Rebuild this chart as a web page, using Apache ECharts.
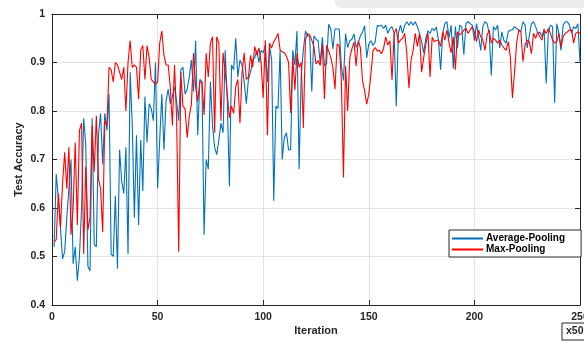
<!DOCTYPE html>
<html>
<head>
<meta charset="utf-8">
<script src="https://cdn.jsdelivr.net/npm/echarts@6/dist/echarts.min.js"></script>
<style>
  html, body { margin: 0; padding: 0; background: #fff; }
  #chart { width: 584px; height: 343px; }
</style>
</head>
<body>
<div id="chart"></div>
<script>
// test accuracy per iteration (x50)
var avgPooling = [
    0.52, 0.67, 0.62, 0.56, 0.495, 0.51, 0.58, 0.64, 0.70, 0.485,
    0.52, 0.45, 0.50, 0.60, 0.785, 0.73, 0.48, 0.47, 0.785, 0.525,
    0.52, 0.75, 0.795, 0.69, 0.795, 0.76, 0.835, 0.505, 0.50, 0.625,
    0.475, 0.72, 0.655, 0.63, 0.725, 0.505, 0.88, 0.77, 0.58, 0.75,
    0.565, 0.74, 0.635, 0.83, 0.735, 0.815, 0.805, 0.78, 0.90, 0.64,
    0.74, 0.835, 0.72, 0.82, 0.845, 0.815, 0.83, 0.85, 0.82, 0.78,
    0.885, 0.89, 0.835, 0.845, 0.87, 0.905, 0.84, 0.945, 0.75, 0.865,
    0.86, 0.545, 0.70, 0.68, 0.86, 0.77, 0.725, 0.71, 0.74, 0.775,
    0.755, 0.925, 0.82, 0.645, 0.895, 0.885, 0.95, 0.87, 0.905, 0.895,
    0.86, 0.815, 0.865, 0.88, 0.905, 0.91, 0.925, 0.90, 0.925, 0.92,
    0.935, 0.86, 0.935, 0.905, 0.615, 0.81, 0.805, 0.925, 0.70, 0.745,
    0.755, 0.72, 0.72, 0.925, 0.895, 0.965, 0.68, 0.875, 0.925, 0.965,
    0.955, 0.955, 0.84, 0.955, 0.948, 0.945, 0.897, 0.952, 0.893, 0.897,
    0.979, 0.969, 0.928, 0.969, 0.969, 0.969, 0.893, 0.863, 0.959, 0.931,
    0.945, 0.948, 0.959, 0.931, 0.94, 0.955, 0.962, 0.976, 0.91, 0.938,
    0.945, 0.935, 0.942, 0.976, 0.975, 0.977, 0.97, 0.977, 0.96, 0.97,
    0.974, 0.96, 0.81, 0.96, 0.977, 0.96, 0.977, 0.984, 0.977, 0.984,
    0.977, 0.984, 0.974, 0.96, 0.944, 0.92, 0.95, 0.965, 0.96, 0.97,
    0.966, 0.973, 0.945, 0.885, 0.96, 0.98, 0.984, 0.95, 0.977, 0.887,
    0.974, 0.93, 0.977, 0.974, 0.916, 0.98, 0.984, 0.98, 0.977, 0.945,
    0.98, 0.953, 0.925, 0.974, 0.984, 0.98, 0.96, 0.873, 0.974, 0.967,
    0.977, 0.93, 0.963, 0.945, 0.94, 0.963, 0.967, 0.967, 0.974, 0.97,
    0.967, 0.963, 0.984, 0.977, 0.93, 0.955, 0.98, 0.984, 0.974, 0.96,
    0.963, 0.953, 0.97, 0.857, 0.963, 0.977, 0.974, 0.817, 0.98, 0.96,
    0.925, 0.977, 0.984, 0.984, 0.977, 0.96, 0.974, 0.97, 0.98, 0.90
];
var maxPooling = [
    0.53, 0.535, 0.63, 0.56, 0.65, 0.715, 0.64, 0.725, 0.545, 0.60,
    0.735, 0.565, 0.76, 0.775, 0.505, 0.685, 0.555, 0.58, 0.77, 0.675,
    0.79, 0.66, 0.64, 0.55, 0.78, 0.77, 0.89, 0.885, 0.86, 0.90,
    0.895, 0.88, 0.865, 0.89, 0.80, 0.90, 0.945, 0.89, 0.895, 0.89,
    0.825, 0.925, 0.935, 0.865, 0.935, 0.91, 0.865, 0.86, 0.855, 0.86,
    0.94, 0.965, 0.915, 0.895, 0.895, 0.85, 0.77, 0.895, 0.785, 0.51,
    0.88, 0.81, 0.805, 0.745, 0.79, 0.813, 0.919, 0.85, 0.82, 0.86,
    0.86, 0.792, 0.919, 0.87, 0.94, 0.953, 0.755, 0.953, 0.94, 0.78,
    0.92, 0.88, 0.835, 0.786, 0.81, 0.795, 0.85, 0.865, 0.775, 0.88,
    0.92, 0.865, 0.87, 0.915, 0.89, 0.933, 0.915, 0.93, 0.90, 0.827,
    0.946, 0.75, 0.94, 0.93, 0.943, 0.95, 0.96, 0.926, 0.922, 0.92,
    0.913, 0.90, 0.796, 0.91, 0.843, 0.919, 0.89, 0.90, 0.765, 0.946,
    0.96, 0.957, 0.946, 0.933, 0.897, 0.904, 0.894, 0.938, 0.825, 0.935,
    0.924, 0.91, 0.89, 0.845, 0.938, 0.935, 0.863, 0.663, 0.893, 0.80,
    0.91, 0.928, 0.942, 0.893, 0.945, 0.931, 0.863, 0.842, 0.814, 0.835,
    0.876, 0.924, 0.931, 0.924, 0.925, 0.918, 0.929, 0.953, 0.936, 0.945,
    0.864, 0.96, 0.97, 0.94, 0.946, 0.95, 0.96, 0.919, 0.847, 0.905,
    0.925, 0.96, 0.933, 0.96, 0.88, 0.91, 0.938, 0.96, 0.87, 0.952,
    0.943, 0.946, 0.946, 0.933, 0.963, 0.946, 0.967, 0.94, 0.92, 0.953,
    0.885, 0.963, 0.957, 0.96, 0.967, 0.97, 0.96, 0.967, 0.974, 0.963,
    0.943, 0.967, 0.953, 0.946, 0.925, 0.956, 0.967, 0.94, 0.95, 0.946,
    0.94, 0.946, 0.936, 0.93, 0.925, 0.943, 0.912, 0.827, 0.88, 0.94,
    0.967, 0.963, 0.902, 0.936, 0.946, 0.943, 0.918, 0.96, 0.95, 0.963,
    0.953, 0.946, 0.967, 0.96, 0.97, 0.96, 0.946, 0.94, 0.943, 0.96,
    0.932, 0.953, 0.96, 0.963, 0.967, 0.967, 0.94, 0.96, 0.963, 0.96
];
var seriesNames = ['Average-Pooling', 'Max-Pooling'];

var axisColor = '#262626';
var gridColor = '#e3e3e3';
var fontFam = '"Liberation Sans", Arial, sans-serif';

function toPairs(arr) {
    return arr.map(function (v, i) { return [i + 1, v]; });
}

var myChart = echarts.init(document.getElementById('chart'));

var labelStyle = {
    color: axisColor,
    fontFamily: fontFam,
    fontWeight: 'bold',
    fontSize: 10.5
};

var option = {
    backgroundColor: '#ffffff',
    animation: false,
    grid: {
        left: 52,
        right: 4,
        top: 14,
        bottom: 38,
        outerBoundsMode: 'none'
    },
    graphic: [
        // faint grey band at the very top of the source picture
        {
            type: 'rect',
            shape: { x: 335, y: -6, width: 260, height: 14, r: 7 },
            style: { fill: '#ededed' },
            z: -10
        },
        // the "x50" scale box
        {
            type: 'rect',
            shape: { x: 562, y: 323, width: 30, height: 17 },
            style: { fill: '#fff', stroke: axisColor, lineWidth: 1 }
        },
        {
            type: 'text',
            left: 566,
            top: 326,
            style: {
                text: 'x50',
                fill: axisColor,
                font: 'bold 10.5px ' + fontFam
            }
        }
    ],
    legend: {
        data: seriesNames,
        orient: 'vertical',
        left: 449,
        top: 230,
        itemWidth: 31,
        itemHeight: 2,
        itemGap: 0,
        icon: 'rect',
        padding: [3, 16, 2, 3],
        backgroundColor: '#fff',
        borderColor: axisColor,
        borderWidth: 1,
        borderRadius: 0,
        textStyle: {
            color: '#000',
            fontFamily: fontFam,
            fontWeight: 'bold',
            fontSize: 10,
            lineHeight: 11,
            padding: [0, 0, 0, -2]
        }
    },
    xAxis: [{
        type: 'value',
        min: 0,
        max: 250,
        interval: 50,
        position: 'bottom',
        name: 'Iteration',
        nameLocation: 'middle',
        nameGap: 20,
        nameMoveOverlap: false,
        nameTextStyle: {
            color: axisColor,
            fontFamily: fontFam,
            fontWeight: 'bold',
            fontSize: 11
        },
        axisLine: { show: true, onZero: false, lineStyle: { color: axisColor, width: 1 } },
        axisTick: { show: true, inside: true, length: 5, lineStyle: { color: axisColor } },
        axisLabel: Object.assign({ margin: 7, showMaxLabel: true, hideOverlap: false }, labelStyle),
        splitLine: { show: true, lineStyle: { color: gridColor, width: 1 } }
    }, {
        type: 'value',
        min: 0,
        max: 250,
        interval: 50,
        position: 'top',
        axisLine: { show: true, onZero: false, lineStyle: { color: axisColor, width: 1 } },
        axisTick: { show: true, inside: true, length: 5, lineStyle: { color: axisColor } },
        axisLabel: { show: false },
        splitLine: { show: false }
    }],
    yAxis: [{
        type: 'value',
        min: 0.4,
        max: 1,
        interval: 0.1,
        position: 'left',
        name: 'Test Accuracy',
        nameLocation: 'middle',
        nameGap: 28,
        nameMoveOverlap: false,
        nameTextStyle: {
            color: axisColor,
            fontFamily: fontFam,
            fontWeight: 'bold',
            fontSize: 11
        },
        axisLine: { show: true, onZero: false, lineStyle: { color: axisColor, width: 1 } },
        axisTick: { show: true, inside: true, length: 5, lineStyle: { color: axisColor } },
        axisLabel: Object.assign({
            margin: 7,
            formatter: function (v) { return String(Math.round(v * 10) / 10); }
        }, labelStyle),
        splitLine: { show: true, lineStyle: { color: gridColor, width: 1 } }
    }, {
        type: 'value',
        min: 0.4,
        max: 1,
        interval: 0.1,
        position: 'right',
        axisLine: { show: true, onZero: false, lineStyle: { color: axisColor, width: 1 } },
        axisTick: { show: true, inside: true, length: 5, lineStyle: { color: axisColor } },
        axisLabel: { show: false },
        splitLine: { show: false }
    }],
    series: [{
        name: seriesNames[0],
        type: 'line',
        xAxisIndex: 0,
        yAxisIndex: 0,
        showSymbol: false,
        symbol: 'none',
        itemStyle: { color: '#0072BD' },
        lineStyle: { color: '#0072BD', width: 1.1 },
        data: toPairs(avgPooling),
        z: 3
    }, {
        name: seriesNames[1],
        type: 'line',
        xAxisIndex: 0,
        yAxisIndex: 0,
        showSymbol: false,
        symbol: 'none',
        itemStyle: { color: '#FF0000' },
        lineStyle: { color: '#FF0000', width: 1.1 },
        data: toPairs(maxPooling),
        z: 4
    }]
};

myChart.setOption(option);
</script>
</body>
</html>
